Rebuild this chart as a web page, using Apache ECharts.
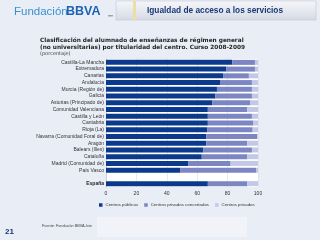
<!DOCTYPE html>
<html>
<head>
<meta charset="utf-8">
<script src="https://cdn.jsdelivr.net/npm/echarts@6/dist/echarts.min.js"></script>
<style>
  html, body { margin: 0; padding: 0; background: #e9edf5; }
  #chart { width: 320px; height: 240px; }
</style>
</head>
<body>
<div id="chart"></div>
<script>
  // comunidades (orden del gráfico, de arriba abajo)
  var regiones = ['Castilla-La Mancha', 'Extremadura', 'Canarias', 'Andalucía', 'Murcia (Región de)',
    'Galicia', 'Asturias (Principado de)', 'Comunidad Valenciana', 'Castilla y León', 'Cantabria',
    'Rioja (La)', 'Navarra (Comunidad Foral de)', 'Aragón', 'Balears (Illes)', 'Cataluña',
    'Madrid (Comunidad de)', 'País Vasco', '', 'España']
  var publicos =    [83, 79, 77, 75, 73, 72, 70, 67, 67, 67, 66.5, 66, 66, 64, 63, 54, 49, null, 67]
  var concertados = [15, 19, 17, 21, 23, 24, 25, 26, 29, 30, 30, 33.5, 27, 32, 30, 28, 50, null, 26]
  var privados =    [2, 2, 6, 4, 4, 4, 5, 7, 4, 3, 3.5, 0.5, 7, 4, 7, 18, 1, null, 7]
  var ticks = [0, 20, 40, 60, 80, 100]
  var nombres = ['Centros públicos', 'Centros privados concertados', 'Centros privados']
  var colores = ['#0b3a8c', '#7c86c2', '#c3c8e6']

  var chart = echarts.init(document.getElementById('chart'))

  function serie (i, datos){
    return {
      name: nombres[i],
      type: 'bar',
      stack: 'total',
      barWidth: 5,
      itemStyle: { color: colores[i] },
      data: datos,
    }
  }

  var option = {
    animation: false,
    backgroundColor: '#e9edf5',
    textStyle: { fontFamily: 'Liberation Sans, Arial, sans-serif' },
    graphic: [
      // franja blanca del área de datos
      { type: 'rect', z: -1, shape: { x: 106, y: 59, width: 152, height: 128 }, style: { fill: '#ffffff' } },
      // cabecera
      { type: 'text', left: 14, top: 6, style: { text: 'Fundación', fill: '#3a91d2', fontSize: 11.5, fontFamily: 'Liberation Sans' } },
      { type: 'text', left: 66, top: 5, style: { text: 'BBVA', fill: '#1e62b4', fontSize: 12.5, fontWeight: 'bold', fontFamily: 'Liberation Sans' } },
      { type: 'rect', shape: { x: 108, y: 15, width: 5, height: 1.5 }, style: { fill: '#9aa4b4' } },
      { type: 'rect', shape: { x: 116, y: 1, width: 200, height: 19 },
        style: { fill: new echarts.graphic.LinearGradient(0, 0, 0, 1, [{ offset: 0, color: '#f6f7fa' }, { offset: 1, color: '#d5dae4' }]), stroke: '#c2c8d4', lineWidth: 0.6 } },
      { type: 'rect', shape: { x: 133, y: 1, width: 3, height: 19 }, style: { fill: '#f1dca2' } },
      { type: 'text', left: 147, top: 6.5, style: { text: 'Igualdad de acceso a los servicios', fill: '#1a3875', fontSize: 8.3, fontWeight: 'bold', fontFamily: 'Liberation Sans' } },
      // título del gráfico
      { type: 'text', left: 40, top: 37, style: { text: 'Clasificación del alumnado de enseñanzas de régimen general\n(no universitarias) por titularidad del centro. Curso 2008-2009', fill: '#1e1e1e', fontSize: 5.8, lineHeight: 7, fontWeight: 'bold', fontFamily: 'DejaVu Sans' } },
      { type: 'text', left: 40, top: 51, style: { text: '(porcentaje)', fill: '#444', fontSize: 5, fontFamily: 'DejaVu Sans' } },
      // pie
      { type: 'rect', z: -1, shape: { x: 97, y: 217, width: 150, height: 20 }, style: { fill: '#f1f3f8' } },
      { type: 'text', left: 42, top: 224, style: { text: 'Fuente: Fundación BBVA-Ivie', fill: '#444', fontSize: 3.8 } },
      { type: 'text', left: 5, top: 228, style: { text: '21', fill: '#1a3875', fontSize: 8, fontWeight: 'bold' } },
    ],
    legend: {
      data: nombres,
      top: 198,
      left: 94,
      itemWidth: 3.5,
      itemHeight: 3.5,
      itemGap: 6,
      icon: 'rect',
      textStyle: { fontSize: 4.4, color: '#333', padding: [0, 0, 0, -2] },
    },
    grid: {
      left: 106,
      right: 62,
      top: 59,
      height: 128,
      containLabel: false,
    },
    xAxis: {
      type: 'value',
      min: 0,
      max: 100,
      interval: 20,
      axisLine: { show: false },
      axisTick: { show: false },
      splitLine: { lineStyle: { color: '#d8dbe2', width: 0.6 } },
      axisLabel: {
        fontSize: 5,
        color: '#333',
        margin: 4,
        formatter: function (v){ return ticks.indexOf(v) >= 0 ? v : '' },
      },
    },
    yAxis: {
      type: 'category',
      inverse: true,
      data: regiones,
      axisTick: { show: false },
      axisLine: { show: true, lineStyle: { color: '#b8bdc8', width: 0.6 } },
      axisLabel: {
        fontSize: 5,
        color: '#333',
        margin: 2,
        interval: 0,
        formatter: function (v){ return v === 'España' ? '{b|' + v + '}' : v },
        rich: { b: { fontSize: 5, fontWeight: 'bold', color: '#222' } },
      },
    },
    series: [
      serie(0, publicos),
      serie(1, concertados),
      serie(2, privados),
    ],
  }
  chart.setOption(option)
</script>
</body>
</html>
